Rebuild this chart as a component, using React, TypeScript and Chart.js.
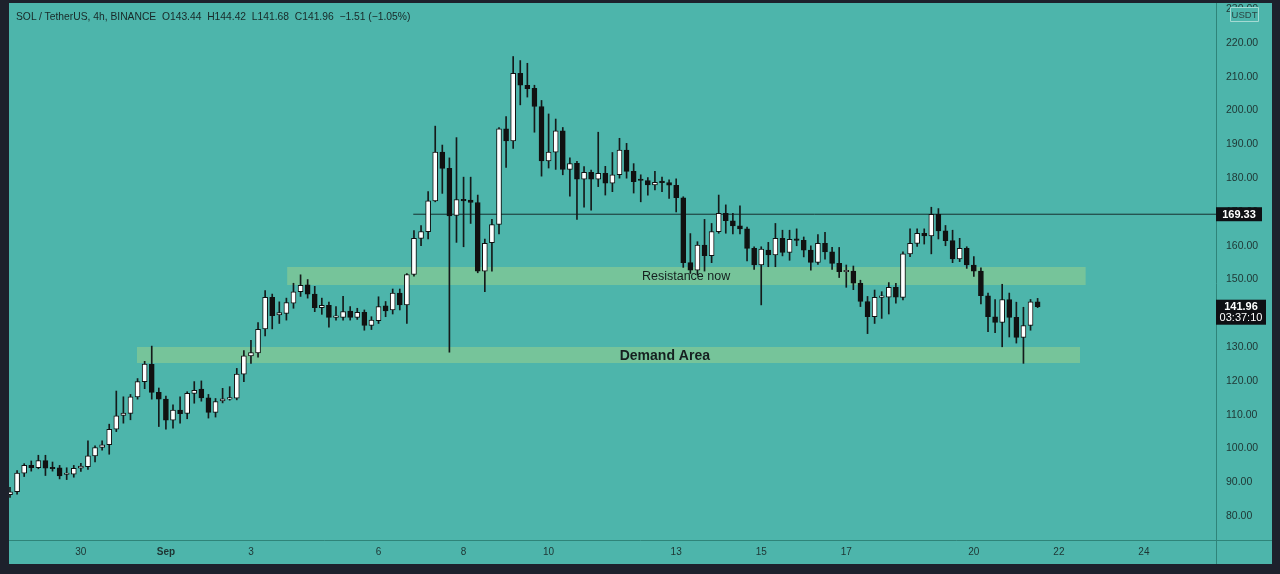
import React, { useEffect, useRef } from "react";
import { Chart, registerables } from "chart.js";

Chart.register(...registerables);

// ---- DATA (4h candles, SOL/USDT) ----
const opens = [
  86.3, 87.2, 92.7, 95.0, 94.3, 96.4, 94.3, 94.3, 92.3, 92.4,
  94.2, 94.6, 97.8, 100.3, 101.1, 105.7, 109.8, 110.4, 115.3, 119.8,
  124.9, 116.6, 114.6, 108.4, 111.4, 110.4, 116.3, 117.6, 115.0, 110.7,
  114.1, 114.6, 114.9, 122.0, 127.4, 128.3, 135.4, 144.7, 139.5, 140.0,
  143.0, 146.4, 148.4, 145.7, 141.7, 142.4, 138.8, 138.8, 140.7, 138.8,
  140.3, 136.4, 137.8, 142.2, 141.0, 146.0, 142.5, 151.5, 162.2, 164.2,
  173.3, 187.7, 182.9, 169.0, 173.5, 173.5, 172.8, 152.5, 160.9, 166.3,
  194.6, 191.0, 211.0, 207.5, 206.6, 201.2, 185.1, 187.7, 194.0, 182.6,
  184.4, 179.7, 181.7, 179.7, 181.4, 178.5, 181.0, 188.3, 182.0, 179.5,
  179.3, 178.0, 178.8, 178.7, 177.9, 174.2, 155.0, 152.8, 160.2, 157.1,
  164.2, 169.6, 167.4, 165.9, 165.0, 159.2, 154.3, 158.7, 157.3, 162.2,
  158.0, 161.9, 161.6, 158.7, 155.1, 160.7, 158.2, 154.8, 152.3, 152.5,
  148.9, 143.5, 139.0, 144.7, 144.8, 147.7, 144.7, 157.6, 160.7, 163.7,
  162.9, 169.3, 164.4, 161.5, 156.1, 159.2, 154.3, 152.5, 145.2, 139.0,
  137.3, 144.1, 138.8, 132.9, 136.4, 143.44,
];
const highs = [
  88.5, 93.5, 95.5, 96.3, 98.0, 98.0, 96.0, 95.0, 94.3, 95.0,
  95.6, 102.3, 100.8, 102.3, 107.2, 117.0, 115.3, 116.0, 120.7, 125.8,
  130.3, 117.9, 115.5, 112.9, 115.3, 116.8, 119.8, 120.0, 116.0, 114.8,
  117.8, 118.3, 123.7, 129.0, 132.0, 137.3, 146.7, 145.7, 143.4, 144.5,
  148.9, 151.4, 150.0, 148.0, 144.5, 143.3, 142.0, 145.0, 142.0, 141.5,
  141.0, 139.0, 144.9, 143.5, 147.2, 147.2, 151.8, 164.5, 166.0, 176.0,
  195.4, 189.8, 186.0, 192.0, 180.3, 180.3, 175.0, 162.0, 167.8, 195.0,
  198.2, 216.0, 214.8, 214.0, 207.5, 203.0, 199.0, 197.5, 195.0, 186.0,
  185.0, 183.4, 182.4, 193.6, 183.5, 187.6, 191.8, 190.3, 184.3, 181.0,
  180.2, 182.0, 180.3, 179.5, 179.8, 174.5, 163.6, 161.2, 167.8, 166.6,
  175.0, 172.1, 169.6, 171.8, 165.5, 159.7, 159.7, 161.0, 166.6, 164.6,
  164.6, 165.0, 162.6, 160.0, 163.3, 164.0, 159.5, 159.5, 154.3, 154.0,
  149.8, 145.0, 146.9, 146.4, 149.1, 148.9, 158.2, 165.0, 165.0, 165.0,
  171.4, 171.0, 166.0, 164.6, 162.2, 159.7, 156.8, 153.5, 146.0, 144.1,
  148.6, 146.0, 143.3, 141.8, 144.1, 144.42,
];
const lows = [
  85.5, 86.5, 91.7, 93.3, 94.0, 92.0, 93.3, 91.0, 90.8, 91.5,
  93.2, 93.8, 96.0, 99.5, 98.3, 105.0, 107.5, 108.5, 114.6, 117.7,
  114.6, 106.5, 105.7, 106.0, 107.5, 108.8, 113.4, 114.0, 109.0, 109.3,
  113.5, 114.3, 114.4, 119.8, 125.2, 127.0, 133.3, 135.4, 137.0, 138.0,
  141.5, 145.0, 144.5, 140.5, 139.7, 135.9, 138.0, 138.0, 138.0, 138.2,
  135.0, 135.2, 137.0, 139.0, 139.8, 141.0, 137.0, 151.0, 160.0, 162.0,
  173.0, 175.5, 128.5, 161.0, 159.7, 166.6, 152.0, 146.4, 152.5, 163.5,
  183.2, 188.8, 201.7, 204.0, 193.6, 180.6, 183.0, 182.6, 181.0, 174.7,
  167.8, 171.4, 170.5, 177.5, 175.0, 176.0, 180.0, 180.0, 175.6, 173.0,
  175.0, 176.5, 176.0, 174.0, 170.0, 153.6, 151.8, 151.3, 152.5, 155.0,
  163.7, 163.7, 163.5, 163.5, 155.5, 153.0, 142.5, 153.8, 153.8, 157.0,
  155.7, 160.0, 156.7, 152.8, 154.5, 156.0, 153.0, 150.6, 147.7, 147.0,
  142.0, 134.0, 137.0, 138.5, 139.8, 143.0, 144.0, 156.8, 159.8, 160.5,
  157.6, 162.0, 160.0, 155.0, 155.3, 153.3, 150.9, 142.8, 134.6, 134.3,
  130.1, 133.0, 131.2, 125.2, 135.0, 141.68,
];
const closes = [
  87.2, 92.7, 95.0, 94.3, 96.4, 94.2, 94.0, 91.9, 92.5, 94.1,
  94.8, 97.8, 100.3, 101.1, 105.7, 109.7, 110.5, 115.3, 119.8, 125.0,
  116.6, 114.6, 108.4, 111.4, 110.3, 116.3, 117.2, 115.0, 110.7, 113.9,
  114.7, 114.9, 122.0, 127.4, 128.4, 135.3, 144.7, 139.3, 140.2, 143.2,
  146.4, 148.3, 145.7, 141.7, 142.4, 138.8, 138.9, 140.5, 138.8, 140.3,
  136.4, 138.0, 142.0, 140.7, 146.0, 142.5, 151.5, 162.2, 164.2, 173.3,
  187.7, 182.9, 168.8, 173.7, 173.3, 172.8, 152.5, 160.7, 166.3, 194.6,
  191.0, 211.0, 207.5, 206.5, 201.2, 185.1, 187.7, 194.0, 182.6, 184.3,
  179.7, 181.7, 179.7, 181.4, 178.5, 181.0, 188.3, 182.0, 179.0, 179.3,
  178.0, 178.8, 178.7, 177.9, 174.2, 155.0, 152.8, 160.2, 157.1, 164.2,
  169.6, 167.4, 165.9, 165.0, 159.2, 154.3, 159.0, 157.3, 162.2, 158.0,
  161.9, 161.6, 158.7, 155.1, 160.7, 158.2, 154.8, 152.3, 152.5, 148.9,
  143.5, 139.0, 144.7, 144.8, 147.7, 144.8, 157.6, 160.7, 163.7, 162.9,
  169.3, 164.4, 161.5, 156.1, 159.2, 154.3, 152.5, 145.2, 139.0, 137.3,
  144.1, 138.8, 132.9, 136.4, 143.4, 141.96,
];

// time axis: candle index of each labelled day (00:00)
const dayTickIndex = [10, 22, 34, 52, 64, 76, 94, 106, 118, 136, 148, 160];
const dayTickLabels = ["30", "Sep", "3", "6", "8", "10", "13", "15", "17", "20", "22", "24"];
const priceTicks = [80, 90, 100, 110, 120, 130, 140, 150, 160, 170, 180, 190, 200, 210, 220, 230];

const levelPrice = 169.33;
const levelStart = 56.9;
const lastPrice = 141.96;
const countdown = "03:37:10";
const quoteUnit = "USDT";

const resistanceRange = [148.4, 153.7];
const resistanceSpan = [39.1, 151.8];
const resistanceLabel = "Resistance now";
const resistanceLabelAt = [95.4, 151.0];

const demandRange = [125.3, 130.0];
const demandSpan = [17.9, 151.0];
const demandLabel = "Demand Area";
const demandLabelAt = [92.4, 127.4];

const headerText = "SOL / TetherUS, 4h, BINANCE  O143.44  H144.42  L141.68  C141.96  \u22121.51 (\u22121.05%)";

const X_MIN = -0.141;
const X_MAX = 170.17;
const Y_MIN = 72.92;
const Y_MAX = 231.84;

const TEAL = "rgb(77,181,171)";
const FRAME = "#1d212c";
const BAND = "rgb(118,196,154)";
const DIVIDER = "#2f8479";
const TEXT = "#1e3432";
const FONT = "'Liberation Sans', Arial, sans-serif";

export default function App() {
  const canvasRef = useRef<HTMLCanvasElement | null>(null);

  useEffect(() => {
    const canvas = canvasRef.current;
    if (!canvas) return;

    const idx = opens.map((_, i) => i);
    const bodyData = idx.map((i) => ({ x: i, y: [opens[i], closes[i]] }));
    const wickData = idx.map((i) => ({ x: i, y: [lows[i], highs[i]] }));
    const bodyColors = idx.map((i) => (closes[i] >= opens[i] ? "#ffffff" : "#111111"));

    const overlay = {
      id: "overlay",
      afterDatasetsDraw(chart: any) {
        const { ctx, scales } = chart;
        const xs = scales.x;
        const ys = scales.y;
        ctx.save();
        ctx.fillStyle = "#15201f";
        ctx.textAlign = "center";
        ctx.textBaseline = "middle";
        ctx.font = `12.5px ${FONT}`;
        ctx.fillText(resistanceLabel, xs.getPixelForValue(resistanceLabelAt[0]), ys.getPixelForValue(resistanceLabelAt[1]));
        ctx.font = `bold 14px ${FONT}`;
        ctx.fillText(demandLabel, xs.getPixelForValue(demandLabelAt[0]), ys.getPixelForValue(demandLabelAt[1]));
        ctx.restore();
      },
      afterDraw(chart: any) {
        const { ctx, scales, chartArea, width, height } = chart;
        const ys = scales.y;
        ctx.save();
        // dividers
        ctx.strokeStyle = DIVIDER;
        ctx.lineWidth = 1;
        ctx.beginPath();
        ctx.moveTo(Math.round(chartArea.right) + 0.5, 0);
        ctx.lineTo(Math.round(chartArea.right) + 0.5, height);
        ctx.moveTo(0, Math.round(chartArea.bottom) + 0.5);
        ctx.lineTo(width, Math.round(chartArea.bottom) + 0.5);
        ctx.stroke();

        const left = chartArea.right;
        // level label
        const ly = ys.getPixelForValue(levelPrice);
        ctx.fillStyle = "#0e1014";
        ctx.fillRect(left, ly - 7, 46, 14);
        ctx.fillStyle = "#ffffff";
        ctx.font = `bold 11px ${FONT}`;
        ctx.textAlign = "center";
        ctx.textBaseline = "middle";
        ctx.fillText(levelPrice.toFixed(2), left + 23, ly + 0.5);

        // last price label
        const py = ys.getPixelForValue(lastPrice);
        ctx.fillStyle = "#0e1014";
        ctx.fillRect(left, py - 7, 50, 25);
        ctx.fillStyle = "#ffffff";
        ctx.font = `bold 11px ${FONT}`;
        ctx.fillText(lastPrice.toFixed(2), left + 25, py + 0.5);
        ctx.font = `11px ${FONT}`;
        ctx.fillText(countdown, left + 25, py + 11.5);

        // unit box
        ctx.fillStyle = TEAL;
        ctx.strokeStyle = "#a4dad3";
        ctx.lineWidth = 1;
        const bx = left + 14.5;
        const by = 4.5;
        ctx.beginPath();
        ctx.rect(bx, by, 28, 14);
        ctx.fill();
        ctx.stroke();
        ctx.fillStyle = "#2b4644";
        ctx.font = `9.5px ${FONT}`;
        ctx.fillText(quoteUnit, bx + 14, by + 7.5);
        ctx.restore();
      },
    };

    const chart = new Chart(canvas, {
      type: "bar",
      data: {
        datasets: [
          {
            type: "bar",
            data: bodyData as any,
            backgroundColor: bodyColors,
            borderColor: "#111111",
            borderWidth: 1,
            borderSkipped: false,
            barThickness: 5,
            minBarLength: 1.5,
            grouped: false,
            order: 0,
          } as any,
          {
            type: "bar",
            data: wickData as any,
            backgroundColor: "#151a1a",
            borderWidth: 0,
            barThickness: 1,
            grouped: false,
            order: 1,
          } as any,
          {
            type: "line",
            data: [
              { x: levelStart, y: levelPrice },
              { x: X_MAX, y: levelPrice },
            ],
            borderColor: "#17302e",
            borderWidth: 1,
            pointRadius: 0,
            fill: false,
            order: 2,
          } as any,
          {
            type: "line",
            data: [
              { x: resistanceSpan[0], y: resistanceRange[1] },
              { x: resistanceSpan[1], y: resistanceRange[1] },
            ],
            borderWidth: 0,
            borderColor: "rgba(0,0,0,0)",
            backgroundColor: BAND,
            pointRadius: 0,
            fill: "+1",
            order: 10,
          } as any,
          {
            type: "line",
            data: [
              { x: resistanceSpan[0], y: resistanceRange[0] },
              { x: resistanceSpan[1], y: resistanceRange[0] },
            ],
            borderWidth: 0,
            borderColor: "rgba(0,0,0,0)",
            pointRadius: 0,
            fill: false,
            order: 11,
          } as any,
          {
            type: "line",
            data: [
              { x: demandSpan[0], y: demandRange[1] },
              { x: demandSpan[1], y: demandRange[1] },
            ],
            borderWidth: 0,
            borderColor: "rgba(0,0,0,0)",
            backgroundColor: BAND,
            pointRadius: 0,
            fill: "+1",
            order: 12,
          } as any,
          {
            type: "line",
            data: [
              { x: demandSpan[0], y: demandRange[0] },
              { x: demandSpan[1], y: demandRange[0] },
            ],
            borderWidth: 0,
            borderColor: "rgba(0,0,0,0)",
            pointRadius: 0,
            fill: false,
            order: 13,
          } as any,
        ],
      },
      options: {
        animation: false,
        responsive: true,
        maintainAspectRatio: false,
        events: [],
        layout: { padding: 0 },
        plugins: {
          legend: { display: false },
          tooltip: { enabled: false },
          title: { display: false },
        },
        scales: {
          x: {
            type: "linear",
            min: X_MIN,
            max: X_MAX,
            offset: false,
            grid: { display: false, drawTicks: false, offset: false },
            border: { display: false },
            afterBuildTicks: (scale: any) => {
              scale.ticks = dayTickIndex.map((v) => ({ value: v }));
            },
            afterFit: (scale: any) => {
              scale.height = 24;
              scale.paddingLeft = 0;
              scale.paddingRight = 0;
            },
            ticks: {
              autoSkip: false,
              maxRotation: 0,
              padding: 6,
              color: TEXT,
              font: (c: any) => ({
                family: FONT,
                size: 10,
                weight: c.tick && c.tick.value === dayTickIndex[1] ? "bold" : "normal",
              }),
              callback: (value: any) => {
                const k = dayTickIndex.indexOf(Number(value));
                return k >= 0 ? dayTickLabels[k] : "";
              },
            },
          },
          y: {
            type: "linear",
            position: "right",
            min: Y_MIN,
            max: Y_MAX,
            grid: { display: false, drawTicks: false },
            border: { display: false },
            afterBuildTicks: (scale: any) => {
              scale.ticks = priceTicks.map((v) => ({ value: v }));
            },
            afterFit: (scale: any) => {
              scale.width = 56;
              scale.paddingTop = 0;
              scale.paddingBottom = 0;
            },
            ticks: {
              padding: 10,
              color: TEXT,
              font: { family: FONT, size: 10.5 },
              callback: (value: any) => Number(value).toFixed(2),
            },
          },
        },
      } as any,
      plugins: [overlay],
    });

    return () => {
      chart.destroy();
    };
  }, []);

  return (
    <div style={{ position: "fixed", inset: 0, background: FRAME }}>
      <div
        style={{
          position: "absolute",
          left: 9,
          top: 3,
          width: 1263,
          height: 561,
          background: TEAL,
        }}
      >
        <canvas ref={canvasRef} />
        <div
          style={{
            position: "absolute",
            left: 7,
            top: 8,
            font: `10.3px ${FONT}`,
            color: "#182827",
            whiteSpace: "pre",
            pointerEvents: "none",
          }}
        >
          {headerText}
        </div>
      </div>
    </div>
  );
}
